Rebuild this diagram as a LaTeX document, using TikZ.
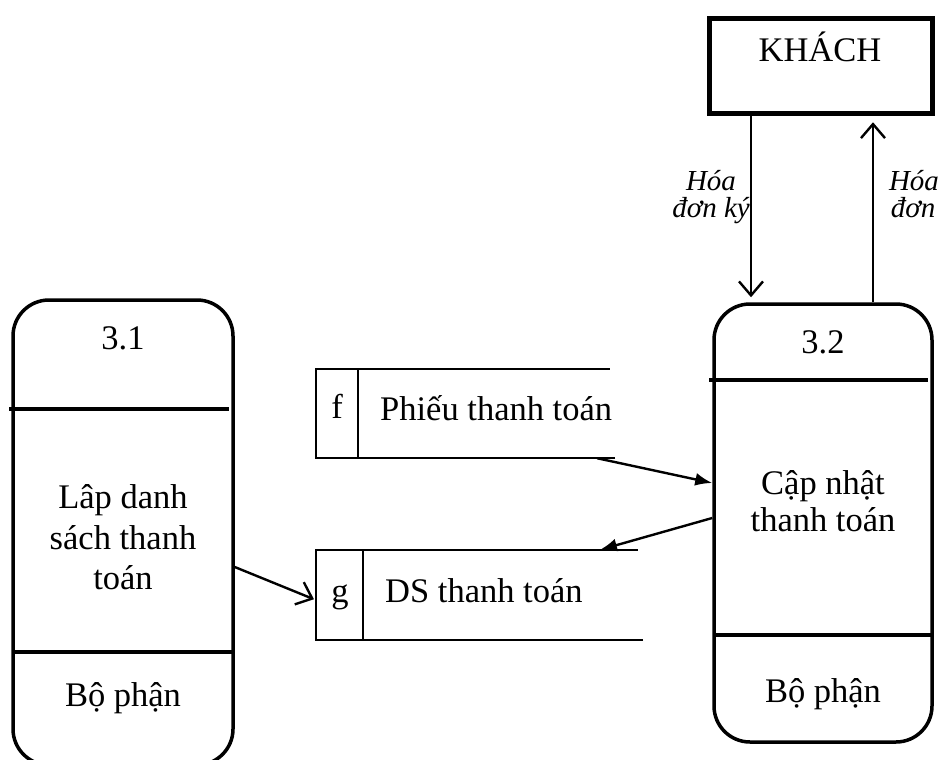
\documentclass[tikz,border=0pt]{standalone}
\usepackage{fontspec}
\setmainfont{Liberation Serif}
\usetikzlibrary{arrows.meta,calc}
\begin{document}
\begin{tikzpicture}[x=1pt,y=-1pt,
  every node/.style={font=\fontsize{34.5}{40.5}\selectfont},
  proc/.style={draw, line width=3.5pt, rounded corners=36pt, inner sep=0pt},
  divider/.style={line width=3.5pt},
  store/.style={line width=2.2pt},
  txt/.style={anchor=base, inner sep=0pt},
  lab/.style={anchor=base, inner sep=0pt, font=\fontsize{29}{27}\selectfont\itshape},
  fflow/.style={line width=2.4pt, -{Latex[length=17pt,width=13pt]}},
  oflow/.style={line width=2.4pt, -{Straight Barb[length=14pt,width=24pt,line width=2.4pt]}}]
\useasboundingbox (0,0) rectangle (943,760);
\clip (0,0) rectangle (943,760);

% process 3.1
\node[proc, minimum width=220pt, minimum height=465pt] (p31) at (123,532.5) {};
\draw[divider] (9,409) -- (229,409);
\draw[divider] (13,652) -- (233,652);
\node[txt] (n31) at (123,349.5) {3.1};
\node[txt] (l31a) at (123,508) {Lâp danh};
\node[txt] (l31b) at (123,549) {sách thanh};
\node[txt] (l31c) at (123,589) {toán};
\node[txt] (b31) at (123,706) {Bộ phận};

% process 3.2
\node[proc, minimum width=218pt, minimum height=438pt] (p32) at (823,523) {};
\draw[divider] (709,380) -- (928,380);
\draw[divider] (714,635) -- (932,635);
\node[txt] (n32) at (823,353) {3.2};
\node[txt] (l32a) at (823,494) {Cập nhật};
\node[txt] (l32b) at (823,531) {thanh toán};
\node[txt] (b32) at (823,702) {Bộ phận};

% external entity
\node[draw, line width=5.5pt, minimum width=223pt, minimum height=95pt, inner sep=0pt] (khach) at (821,66) {};
\node[txt] (kt) at (820,61.5) {KHÁCH};

% data store f
\node[inner sep=0pt, minimum width=294pt, minimum height=89pt] (fs) at (463,413.5) {};
\draw[store] (615,458) -- (316,458) -- (316,369) -- (610,369);
\draw[store] (358,369) -- (358,458);
\node[txt] (fl) at (337,418) {f};
\node[txt, anchor=base west] (ft) at (380,420) {Phiếu thanh toán};

% data store g
\node[inner sep=0pt, minimum width=322pt, minimum height=90pt] (gs) at (477,595) {};
\draw[store] (643,640) -- (316,640) -- (316,550) -- (638,550);
\draw[store] (363,550) -- (363,640);
\node[txt] (gl) at (340,602) {g};
\node[txt, anchor=base west] (gt) at (385,602) {DS thanh toán};

% flows
\draw[oflow, shorten >=5pt] (khach.south -| 751,0) -- (p32.north -| 751,0);
\draw[oflow, shorten >=6pt] (p32.north -| 873,0) -- (khach.south -| 873,0);
\node[lab] (h1a) at (711,190) {Hóa};
\node[lab] (h1b) at (711,217) {đơn ký};
\node[lab] (h2a) at (914,190) {Hóa};
\node[lab] (h2b) at (913,217) {đơn};

\draw[fflow] (fs.south -| 597,0) -- (p32.west |- 0,483);
\draw[fflow] (p32.west |- 0,518) -- (gs.north -| 600,0);
\draw[oflow, shorten >=2pt] (p31.east |- 0,567) -- (gs.west |- 0,600);
\end{tikzpicture}
\end{document}
